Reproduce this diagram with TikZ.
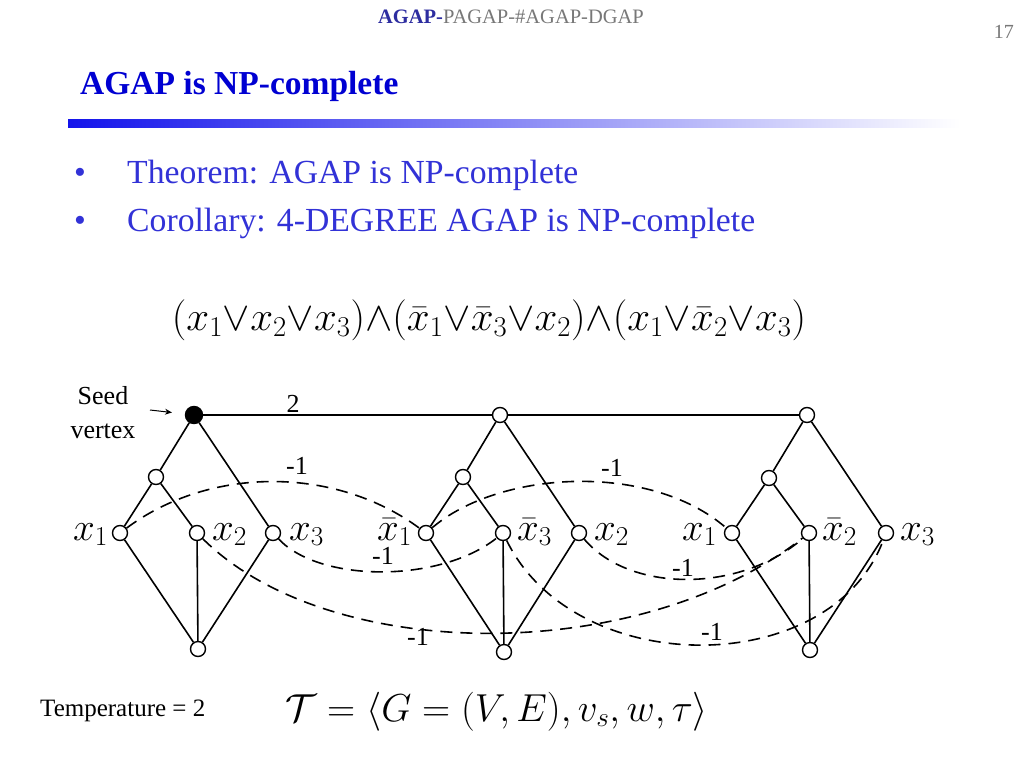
\RequirePackage{fix-cm}
\documentclass[tikz,border=0pt]{standalone}
\usepackage{fontspec}
\setmainfont{Liberation Serif}
\usetikzlibrary{calc,arrows.meta}
\definecolor{hdrblue}{RGB}{45,45,160}
\definecolor{titleblue}{RGB}{0,0,210}
\definecolor{bulletblue}{RGB}{50,50,215}
\definecolor{barblue}{RGB}{20,20,235}
\definecolor{hdrgray}{RGB}{120,120,120}
\begin{document}
\begin{tikzpicture}[x=1pt,y=-1pt,
  vtx/.style={circle,draw,line width=1.4pt,fill=white,minimum size=15pt,inner sep=0pt},
  seedv/.style={vtx,fill=black,minimum size=17pt},
  edge/.style={line width=1.6pt},
  neg/.style={line width=1.6pt,dash pattern=on 12pt off 8pt},
  lab/.style={font=\fontsize{39}{40}\selectfont,inner sep=0pt},
  wlab/.style={font=\fontsize{26}{28}\selectfont,inner sep=0pt},
  txt/.style={inner sep=0pt}]
\fill[white] (0,0) rectangle (1024,768);
\useasboundingbox (0,0) rectangle (1024,768);

% header
\node[txt,anchor=base,font=\fontsize{20.5}{22}\selectfont,text=hdrgray] (hdr) at (511,24)
  {\textcolor{hdrblue}{\textbf{AGAP-}}PAGAP-\#AGAP-DGAP};
\node[txt,anchor=base east,font=\fontsize{20}{22}\selectfont,text=hdrgray] (pg) at (1014,38) {17};
\node[txt,anchor=base west,font=\fontsize{33.5}{36}\selectfont\bfseries,text=titleblue] (title) at (80,94) {AGAP is NP-complete};
\shade[left color=barblue,right color=white] (68,119) rectangle (960,127);

% bullets
\node[txt,anchor=base west,font=\fontsize{33.7}{36}\selectfont,text=bulletblue] (b1dot) at (74,183) {•};
\node[txt,anchor=base west,font=\fontsize{33.7}{36}\selectfont,text=bulletblue] (b1) at (127,183) {Theorem: AGAP is NP-complete};
\node[txt,anchor=base west,font=\fontsize{33.7}{36}\selectfont,text=bulletblue] (b2dot) at (74,231) {•};
\node[txt,anchor=base west,font=\fontsize{33.7}{36}\selectfont,text=bulletblue] (b2) at (127,231) {Corollary: 4-DEGREE AGAP is NP-complete};

% formula
\node[txt,font=\fontsize{41}{44}\selectfont] (phi) at (489,320)
  {$(x_1{\vee}x_2{\vee}x_3){\wedge}(\bar{x}_1{\vee}\bar{x}_3{\vee}x_2){\wedge}(x_1{\vee}\bar{x}_2{\vee}x_3)$};

% vertices
\node[seedv] (t1) at (194,415) {};
\node[vtx] (c1) at (156,477) {};
\node[vtx] (a1) at (120,533) {};
\node[vtx] (b1v) at (197,533) {};
\node[vtx] (d1) at (273,533) {};
\node[vtx] (e1) at (198,649) {};

\node[vtx] (t2) at (500,415) {};
\node[vtx] (c2) at (463,477) {};
\node[vtx] (a2) at (426,533) {};
\node[vtx] (b2v) at (503,533) {};
\node[vtx] (d2) at (579,533) {};
\node[vtx] (e2) at (504,652) {};

\node[vtx] (t3) at (807,415) {};
\node[vtx] (c3) at (769,478) {};
\node[vtx] (a3) at (732,533) {};
\node[vtx] (b3v) at (809,533) {};
\node[vtx] (d3) at (886,533) {};
\node[vtx] (e3) at (810,650) {};

% gadget edges
\foreach \g in {1,2,3}{
  \draw[edge] (t\g) -- (c\g);
  \draw[edge] (t\g) -- (d\g);
  \draw[edge] (c\g) -- (a\g);
  \draw[edge] (c\g) -- (b\g v);
  \draw[edge] (a\g) -- (e\g);
  \draw[edge] (b\g v) -- (e\g);
  \draw[edge] (d\g) -- (e\g);
}
\draw[edge] (t1) -- (t2) -- (t3);
\node[wlab] (w2) at (293,404) {2};

% negative edges
\draw[neg] (a1) .. controls (210,466) and (335,466) .. (a2);
\draw[neg] (a2) .. controls (500,470) and (650,462) .. (a3);
\draw[neg] (d1) .. controls (320,583) and (440,583) .. (b2v);
\draw[neg] (d2) .. controls (630,593) and (740,593) .. (b3v);
\draw[neg] (b1v) .. controls (330,665) and (640,665) .. (b3v);
\draw[neg] (b2v) .. controls (575,680) and (830,680) .. (d3);

\node[wlab] (m1) at (297,466) {-1};
\node[wlab] (m2) at (612,468) {-1};
\node[wlab] (m3) at (383,556) {-1};
\node[wlab] (m4) at (683,568) {-1};
\node[wlab] (m5) at (418,637) {-1};
\node[wlab] (m6) at (712,632) {-1};

% vertex labels
\node[lab,anchor=base east] (la1) at ($(a1)+(-12,7)$) {$x_1$};
\node[lab,anchor=base west] (lb1) at ($(b1v)+(15,7)$) {$x_2$};
\node[lab,anchor=base west] (ld1) at ($(d1)+(16,7)$) {$x_3$};
\node[lab,anchor=base east] (la2) at ($(a2)+(-14,7)$) {$\bar{x}_1$};
\node[lab,anchor=base west] (lb2) at ($(b2v)+(14,7)$) {$\bar{x}_3$};
\node[lab,anchor=base west] (ld2) at ($(d2)+(15,7)$) {$x_2$};
\node[lab,anchor=base east] (la3) at ($(a3)+(-15,7)$) {$x_1$};
\node[lab,anchor=base west] (lb3) at ($(b3v)+(13,7)$) {$\bar{x}_2$};
\node[lab,anchor=base west] (ld3) at ($(d3)+(14,7)$) {$x_3$};

% seed vertex
\node[wlab,anchor=base] (seed1) at (103,404) {Seed};
\node[wlab,anchor=base] (seed2) at (103,438) {vertex};
\coordinate (arr) at (150,410);
\draw[-{Stealth[length=7pt,width=6pt]},line width=1pt,shorten >=13pt] (arr) -- (t1);

% bottom
\node[txt,anchor=base west,font=\fontsize{25}{26}\selectfont] (temp) at (40,716) {Temperature = 2};
\node[txt,anchor=base west,font=\fontsize{39}{42}\selectfont] (tup) at (285,721)
  {$\mathcal{T} = \langle G=(V,E), v_s, w, \tau\rangle$};
\end{tikzpicture}
\end{document}
